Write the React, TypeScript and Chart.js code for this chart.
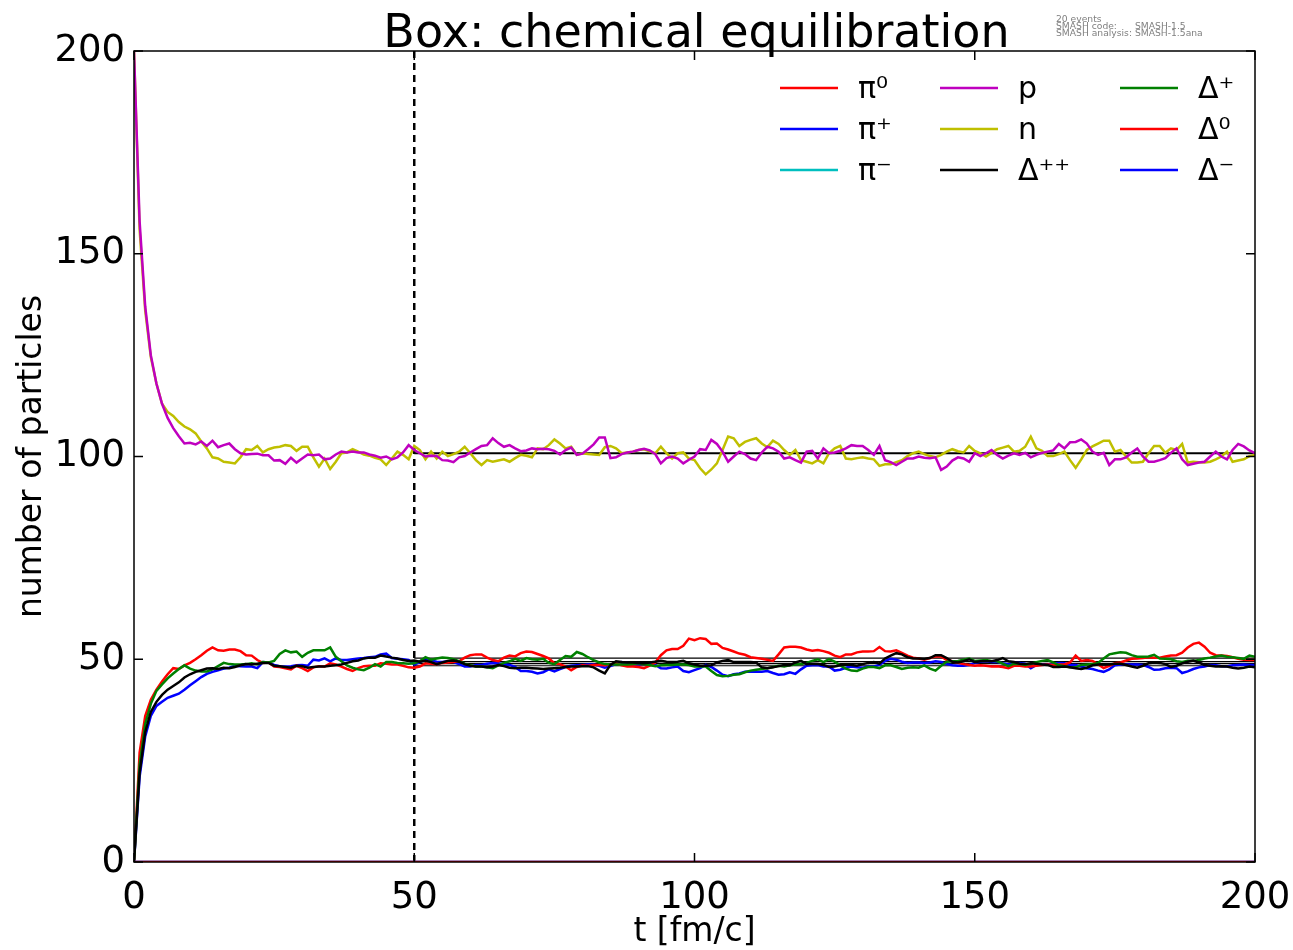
import React, { useEffect, useRef } from "react";
import { Chart, registerables } from "chart.js";

Chart.register(...registerables);

// ---------- data ----------
const TIME = Array.from({ length: 201 }, (_, i) => i); // t [fm/c], step 1

const PION_TIME = [0, 200];
const PI0 = [0, 0];
const PI_PLUS = [0, 0];
const PI_MINUS = [0, 0];

const PROTON = [
  200, 158, 137, 125, 118, 113, 109.5, 107, 105, 103.2,
  103.4, 103, 103.7, 102.6, 103.9, 102.3, 102.8, 103.2, 101.8, 100.8,
  100.5, 100.6, 100.7, 100.3, 100.3, 99, 99.1, 98.2, 99.7, 98.5,
  99.5, 100.5, 100.3, 100.5, 99.3, 99.5, 100.5, 101.2, 101, 101.2,
  101, 101, 100.5, 100.2, 99.7, 100, 99.3, 99.8, 101, 102.8,
  101.6, 100.8, 100, 100.2, 100.1, 99.1, 99, 98.6, 99.8, 100.1,
  101, 101.8, 102.6, 102.8, 104.5, 103.3, 102.4, 102.8, 102, 101.3,
  101.5, 102, 101.8, 101.9, 101.8, 101.4, 100.5, 101.6, 102.2, 100.4,
  100.7, 101.8, 103, 104.7, 104.7, 99.6, 99.8, 100.6, 101, 101.2,
  101.6, 101.9, 101.5, 100.6, 98.3, 99.6, 100, 99.5, 98.3, 99.2,
  100, 101.8, 101.6, 104.1, 103.1, 101.2, 98.7, 100, 101.2, 100.6,
  99.5, 99.1, 101, 102.4, 102, 101.2, 99.5, 99.8, 99.1, 98.5,
  101.2, 101.4, 99.5, 102, 100.8, 101, 101.4, 102, 102.8, 102.6,
  102.6, 101.6, 100.4, 102.6, 99.1, 98.6, 97.9, 98.7, 99.5, 99.5,
  100, 99.7, 99.6, 99.8, 96.7, 97.5, 99, 99.8, 99.5, 98.7,
  100.8, 100.1, 100.8, 101.6, 100.4, 99.5, 100.2, 100.8, 100.4, 100.9,
  99.8, 100.4, 100.9, 101.2, 101.5, 103.1, 102, 103.5, 103.6, 104.2,
  103.2, 101.2, 100.4, 100.9, 97.9, 99.3, 99.3, 99.8, 101, 102,
  100, 98.7, 98.7, 99.1, 99.6, 100.9, 102, 99.3, 97.9, 98.2,
  98.5, 98.7, 100, 101.2, 100, 99.3, 101.6, 103.1, 102.5, 101.5,
  100.8,
];

const NEUTRON = [
  200, 156, 136, 124.5, 118, 113, 111, 110, 108.5, 107.4,
  106.7, 105.7, 103.7, 102, 99.8, 99.5, 98.7, 98.5, 98.3, 99.8,
  101.8, 101.6, 102.6, 101, 101.8, 102.2, 102.4, 102.8, 102.6, 101.4,
  102.4, 102.4, 99.8, 97.5, 99.5, 96.9, 98.7, 100.8, 101, 101.8,
  101.2, 100.5, 100.2, 99.7, 99.3, 97.9, 99.5, 101.2, 100.4, 99.3,
  102.6, 101.6, 99.3, 101.2, 99.5, 101.2, 100.1, 100.6, 101.2, 102.4,
  100.8, 99.1, 97.9, 99.1, 98.7, 99, 99.3, 98.7, 99.6, 100.4,
  100.2, 99.8, 102, 101.8, 102.8, 104.2, 103.2, 102, 102.4, 100.4,
  100.8, 100.6, 100.5, 100.4, 102.3, 102.6, 102, 100.8, 101, 101.2,
  101.6, 101.8, 101.3, 100.8, 102.4, 100.8, 99.5, 100.8, 101, 99.5,
  99.1, 97.1, 95.6, 96.8, 98.3, 101.6, 104.9, 104.5, 102.6, 103.6,
  104.1, 104.5, 103.2, 102.3, 103.9, 103.1, 101.6, 100.4, 101.6, 99.1,
  98.7, 98.3, 99.1, 98.3, 100.8, 102, 102.6, 99.5, 99.3, 99.6,
  99.8, 99.5, 99.3, 97.7, 98.1, 98.1, 98.6, 99.1, 100.1, 100.8,
  101.2, 100.6, 100.1, 99.8, 100.4, 101.2, 101.8, 101.3, 101, 102.6,
  101.4, 100.8, 100, 100.9, 101.8, 102.2, 102.6, 101.2, 101.4, 102.4,
  104.9, 102, 101.4, 100.1, 100.1, 100.6, 101.2, 99.1, 97.2, 99.3,
  101.6, 102.5, 103.2, 103.9, 103.9, 101.2, 101.6, 100, 98.5, 98.5,
  98.7, 100.8, 102.6, 102.6, 100.9, 102, 101.6, 103.1, 98.5, 98.7,
  98.6, 98.5, 98.7, 99.3, 100, 101.2, 98.7, 99, 99.3, 100.1,
  100.4,
];

const DELTA_PP = [
  0, 22, 32, 37, 39.5, 41.2, 42.5, 43.4, 44.3, 45.5,
  46.3, 46.9, 47.3, 47.7, 47.8, 47.6, 47.9, 47.8, 48.1, 48.5,
  48.8, 48.7, 48.9, 49.1, 49.1, 48.4, 48.3, 48.1, 47.9, 48.4,
  48.3, 47.9, 48.1, 48.2, 48.2, 48.4, 48.5, 48.7, 49.1, 49.5,
  49.7, 50.2, 50.4, 50.4, 50.9, 50.7, 50.4, 50.2, 49.8, 49.6,
  49.7, 49.4, 49.6, 49.3, 48.8, 49.2, 49.6, 49.7, 49.4, 48.8,
  48.4, 48.2, 48.2, 48, 48.2, 48.6, 48.3, 47.9, 47.8, 47.9,
  47.9, 47.8, 47.7, 47.6, 47.7, 47.8, 47.9, 48.1, 48.2, 48.2,
  48.3, 48.3, 48, 47.2, 46.5, 48.6, 49.5, 49.3, 49.2, 49.2,
  49.1, 49, 49.2, 49.4, 49.6, 49.4, 49.3, 49.4, 49.6, 49,
  48.7, 48.4, 48.4, 48.5, 49.2, 49.6, 49.8, 49.3, 49.3, 49.3,
  49.3, 49.2, 48, 47.8, 48, 48.3, 48.6, 48.5, 49.2, 49.6,
  48.8, 48.9, 48.8, 48.6, 48.1, 48.2, 48.5, 48.7, 48.6, 48.4,
  48.8, 49.1, 49.3, 48.9, 50.2, 50.9, 51.5, 51.2, 50.5, 50.2,
  50.2, 50.1, 50.3, 51, 51, 50.3, 49.4, 49.2, 49.5, 50,
  49.3, 49.5, 49.5, 49.5, 49.8, 50.3, 49.5, 49.3, 48.9, 48.8,
  49, 48.9, 48.7, 48.6, 48.1, 48.1, 48.2, 48, 47.8, 47.6,
  47.9, 48.5, 48.7, 48.7, 48.7, 48.9, 48.9, 48.6, 48.2, 47.9,
  48.4, 49, 49.2, 49.1, 48.8, 48.1, 48.4, 49, 49.4, 49.7,
  49.2, 48.6, 48.4, 48.2, 48.3, 48.2, 47.9, 47.7, 47.9, 48.2,
  48,
];

const DELTA_P = [
  0, 24, 34, 39, 42.2, 43.8, 45.3, 46.5, 47.6, 48.5,
  47.7, 47.2, 47, 47, 47.5, 48.3, 49.1, 48.8, 48.7, 48.7,
  48.8, 49, 48.7, 49.3, 49.2, 49.6, 51.3, 52.2, 51.7, 51.9,
  50.6, 51.6, 52.2, 52.2, 52.2, 52.9, 50.6, 49.5, 48.5, 47.9,
  47.5, 47.3, 47.9, 48.8, 48.2, 49.3, 49.3, 49.1, 49, 48.9,
  49, 49.5, 50.5, 49.9, 50.2, 50.4, 50.3, 50, 49.5, 48.9,
  48.5, 48.2, 48.2, 48, 47.8, 48.5, 49.1, 49.5, 50.1, 49.6,
  50.3, 50, 49.9, 50.1, 49.1, 48.8, 49.8, 50.8, 50.6, 51.8,
  51.3, 50.5, 49.8, 49.2, 48.8, 48.7, 48.7, 48.7, 48.7, 48.8,
  49, 48.8, 48.6, 48.3, 48.5, 48.6, 48.6, 48.7, 48.7, 48.6,
  48.2, 48.2, 48.2, 47.1, 46.1, 45.8, 45.9, 46.2, 46.3, 46.8,
  47.2, 47.4, 47.6, 47.8, 48.1, 48.4, 48.2, 48.5, 48.7, 48.8,
  49.1, 49.6, 50, 49.3, 50, 49.4, 48.5, 47.7, 47.2, 47.1,
  47.7, 48.1, 48.1, 47.8, 48.5, 48.5, 48.1, 47.6, 47.9, 48,
  47.9, 48.5, 47.7, 47.2, 48.4, 49.4, 49.5, 49.6, 49.9, 50.2,
  49.6, 49.7, 49.8, 49.6, 49.5, 48.9, 48.3, 48.9, 48.8, 48.6,
  48.9, 49.3, 49.6, 49.8, 49.2, 48.5, 48.3, 48, 48, 48.6,
  48.7, 48.8, 49.1, 50.2, 51.2, 51.5, 51.7, 51.6, 51, 50.6,
  50.6, 50.7, 51.1, 50.2, 50.1, 50, 49.5, 49.3, 49.6, 49.6,
  49.8, 50.2, 50.4, 50.7, 50.9, 50.6, 50.5, 50.3, 50.1, 50.9,
  50.6,
];

const DELTA_0 = [
  0, 27, 36, 40, 42.5, 44.5, 46.3, 47.8, 47.6, 48.5,
  49.1, 50, 51, 52.1, 52.9, 52.2, 52.1, 52.4, 52.4, 52,
  51, 50.9, 49.8, 49.1, 49.2, 48.2, 48.1, 47.8, 47.5, 48.4,
  47.8, 47.1, 48, 48.3, 48.2, 49, 48.7, 48.2, 47.6, 47.1,
  47.8, 48.3, 48.4, 48.4, 49, 48.9, 48.7, 48.7, 48.4, 48,
  47.9, 48.2, 49, 48.9, 48.8, 49.1, 49.2, 49.3, 49.5, 50.4,
  51, 51.2, 51.2, 50.4, 49.8, 49.5, 50.4, 50.9, 50.7, 51.5,
  51.9, 51.8, 51.3, 50.8, 50.2, 49, 48.8, 48.2, 47.3, 48.1,
  48.5, 48.4, 48.6, 48.6, 48.5, 48.7, 49, 48.5, 48.2, 48.2,
  48.1, 47.8, 48.4, 49.2, 51, 52.2, 52.5, 52.5, 53.3, 55.1,
  54.7, 55.2, 55, 53.8, 53.9, 52.8, 52.4, 51.9, 51.4, 51.1,
  50.5, 50.3, 50.1, 49.9, 49.6, 51.2, 52.9, 53.1, 53.1, 52.9,
  52.4, 52.1, 52.3, 52, 51.6, 50.9, 50.5, 51.2, 51.2, 51.7,
  51.9, 51.9, 52, 53, 52, 51.9, 52.2, 51.6, 50.9, 50.4,
  50.2, 49.9, 50.3, 50.7, 50.7, 49.8, 49.5, 49.1, 48.8, 48.6,
  48.4, 48.5, 48.4, 48.2, 48.3, 48.1, 47.8, 48.4, 48.4, 48.2,
  48.2, 48.4, 48.6, 48.7, 48.6, 48.7, 48.7, 49.2, 50.9, 49.6,
  49.8, 49.6, 48.8, 47.8, 48.4, 49, 49.2, 49.7, 50.1, 50.2,
  50.3, 50.5, 50.4, 50.4, 50.7, 50.9, 51, 51.6, 52.9, 53.8,
  54.1, 53.1, 51.6, 51, 50.9, 50.8, 50.5, 50.1, 49.9, 49.8,
  49.8,
];

const DELTA_M = [
  0, 21, 31, 36, 38.5, 39.5, 40.5, 41, 41.5, 42.5,
  43.6, 44.6, 45.6, 46.4, 46.9, 47.3, 47.7, 47.9, 48.4, 48.3,
  48.2, 48.2, 47.8, 49.3, 49.2, 48.6, 48.3, 48.2, 48.3, 48.5,
  48.6, 48.4, 49.9, 49.7, 50.2, 49.5, 50.2, 49.8, 49.8, 50,
  50.2, 50.3, 50.5, 50.6, 51.2, 51.4, 50.3, 50.1, 50, 49.8,
  48.7, 49.3, 50.1, 49.7, 49.4, 49.3, 49.5, 49.3, 48.8, 48.2,
  48.2, 48.6, 48.6, 48.9, 49.1, 49, 48.8, 48.6, 48.1, 47.1,
  47.1, 46.9, 46.5, 46.8, 47.5, 47, 47.6, 48.1, 48.4, 48.5,
  48.6, 48.7, 48.7, 48.4, 47.9, 48.3, 48.8, 49.3, 49.1, 48.8,
  48.7, 49, 48.8, 48.6, 47.8, 47.7, 48, 48.2, 47.1, 46.8,
  47.3, 47.8, 48.6, 48.1, 47.2, 46.2, 45.8, 46.3, 46.5, 46.9,
  47, 46.9, 46.9, 47.1, 46.6, 46.2, 46.3, 46.8, 46.4, 47.5,
  48.4, 48.5, 48.6, 48.2, 48.2, 47.2, 47.4, 47.9, 48.2, 48,
  47.9, 48.2, 48.2, 48.6, 49.6, 50.1, 49.9, 49.4, 49.1, 49.2,
  49.2, 49.1, 49.2, 49.5, 49.3, 48.8, 48.5, 48.4, 48.4, 48.6,
  49.1, 49.4, 49.5, 49.3, 49.3, 49, 48.8, 49.1, 49.1, 48.9,
  47.8, 48.6, 48.7, 48.7, 48.9, 49.1, 49, 48.6, 48.6, 48.2,
  47.8, 47.6, 47.2, 46.9, 47.5, 48.5, 48.7, 48.7, 48.7, 48.7,
  48.6, 48.1, 47.4, 47.5, 47.8, 47.9, 47.8, 46.6, 47, 47.6,
  48, 48.2, 48.6, 48.5, 48.3, 48.2, 48.5, 48.6, 48.7, 48.6,
  48.6,
];

// equilibrium averages (thin black lines), drawn from t = 50
const MEAN_TIME = [50, 200];
const MEAN_VALUES = [100.9, 100.7, 50.3, 49.4, 48.9, 48.4];

const EQ_START = 50; // dotted vertical marker
const X_TICKS = [0, 50, 100, 150, 200];
const Y_TICKS = [0, 50, 100, 150, 200];

const TITLE = "Box: chemical equilibration";
const META_LINES = ["20 events", "SMASH code:", "SMASH analysis: SMASH-1.5ana"];
const META_CODE = "SMASH-1.5";

const SERIES = [
  { label: "π⁰", color: "#ff0000", t: PION_TIME, v: PI0 },
  { label: "π⁺", color: "#0000ff", t: PION_TIME, v: PI_PLUS },
  { label: "π⁻", color: "#00bfbf", t: PION_TIME, v: PI_MINUS },
  { label: "p", color: "#bf00bf", t: TIME, v: PROTON },
  { label: "n", color: "#bfbf00", t: TIME, v: NEUTRON },
  { label: "Δ⁺⁺", color: "#000000", t: TIME, v: DELTA_PP },
  { label: "Δ⁺", color: "#008000", t: TIME, v: DELTA_P },
  { label: "Δ⁰", color: "#ff0000", t: TIME, v: DELTA_0 },
  { label: "Δ⁻", color: "#0000ff", t: TIME, v: DELTA_M },
];

const FONT = '"DejaVu Sans", sans-serif';

const framePlugin = {
  id: "frame",
  afterDatasetsDraw(chart: any) {
    const { ctx, chartArea } = chart;
    const { left, right, top, bottom } = chartArea;
    const xs = chart.scales.x;
    const ys = chart.scales.y;
    ctx.save();
    ctx.strokeStyle = "#000";
    ctx.lineWidth = 1.5;
    ctx.strokeRect(left, top, right - left, bottom - top);
    const L = 9;
    ctx.beginPath();
    X_TICKS.forEach((v) => {
      const px = xs.getPixelForValue(v);
      ctx.moveTo(px, bottom);
      ctx.lineTo(px, bottom - L);
      ctx.moveTo(px, top);
      ctx.lineTo(px, top + L);
    });
    Y_TICKS.forEach((v) => {
      const py = ys.getPixelForValue(v);
      ctx.moveTo(left, py);
      ctx.lineTo(left + L, py);
      ctx.moveTo(right, py);
      ctx.lineTo(right - L, py);
    });
    ctx.stroke();
    ctx.restore();
  },
};

const decorPlugin = {
  id: "decor",
  afterDraw(chart: any) {
    const { ctx, chartArea } = chart;
    const { left, right, top } = chartArea;
    ctx.save();
    // title
    ctx.fillStyle = "#000";
    ctx.font = `46px ${FONT}`;
    ctx.textAlign = "center";
    ctx.textBaseline = "alphabetic";
    ctx.fillText(TITLE, (left + right) / 2 + 2, top - 4);
    // meta text
    ctx.fillStyle = "#7f7f7f";
    ctx.font = `9.2px ${FONT}`;
    ctx.textAlign = "left";
    ctx.fillText(META_LINES[0], 1056, 21.5);
    ctx.fillText(META_LINES[1], 1056, 28.5);
    ctx.fillText(META_CODE, 1135, 28.5);
    ctx.fillText(META_LINES[2], 1056, 35.5);
    // legend: 3 columns, column-major
    const colX = [right - 475, right - 315, right - 135];
    const rowY = [top + 37, top + 78, top + 119];
    ctx.font = `30px ${FONT}`;
    SERIES.forEach((s, i) => {
      const c = Math.floor(i / 3);
      const r = i % 3;
      const x0 = colX[c];
      const y0 = rowY[r];
      ctx.strokeStyle = s.color;
      ctx.lineWidth = 2.5;
      ctx.beginPath();
      ctx.moveTo(x0, y0);
      ctx.lineTo(x0 + 58, y0);
      ctx.stroke();
      ctx.fillStyle = "#000";
      ctx.fillText(s.label, x0 + 78, y0 + 10);
    });
    ctx.restore();
  },
};

export default function App() {
  const ref = useRef<HTMLCanvasElement | null>(null);

  useEffect(() => {
    if (!ref.current) return;
    Chart.defaults.font.family = FONT;
    Chart.defaults.color = "#000";

    const datasets: any[] = SERIES.map((s) => ({
      label: s.label,
      data: s.t.map((t, i) => ({ x: t, y: s.v[i] })),
      borderColor: s.color,
      borderWidth: 2.5,
      pointRadius: 0,
      fill: false,
      tension: 0,
    }));
    MEAN_VALUES.forEach((m) => {
      datasets.push({
        label: "mean",
        data: MEAN_TIME.map((t) => ({ x: t, y: m })),
        borderColor: "#000",
        borderWidth: 1.2,
        pointRadius: 0,
        fill: false,
      });
    });
    datasets.push({
      label: "eq",
      data: [
        { x: EQ_START, y: Y_TICKS[0] },
        { x: EQ_START, y: Y_TICKS[Y_TICKS.length - 1] },
      ],
      borderColor: "#000",
      borderWidth: 2.5,
      borderDash: [7, 5],
      pointRadius: 0,
      fill: false,
    });

    const chart = new Chart(ref.current, {
      type: "line",
      data: { datasets },
      options: {
        responsive: false,
        animation: false,
        devicePixelRatio: 1,
        layout: { padding: { top: 51, right: 85, bottom: 0, left: 0 } },
        plugins: {
          legend: { display: false },
          tooltip: { enabled: false },
          title: { display: false },
        },
        scales: {
          x: {
            type: "linear",
            min: 0,
            max: 200,
            afterBuildTicks: (s: any) => {
              s.ticks = X_TICKS.map((v) => ({ value: v }));
            },
            ticks: { font: { size: 37 }, color: "#000", padding: 14, maxRotation: 0, autoSkip: false },
            grid: { display: false, drawTicks: false },
            border: { display: false },
            title: {
              display: true,
              text: "t [fm/c]",
              font: { size: 33 },
              color: "#000",
              padding: { top: 0, bottom: -2 },
            },
            afterFit: (s: any) => {
              s.height = 88;
            },
          },
          y: {
            type: "linear",
            min: 0,
            max: 200,
            afterBuildTicks: (s: any) => {
              s.ticks = Y_TICKS.map((v) => ({ value: v }));
            },
            ticks: { font: { size: 37 }, color: "#000", padding: 9, autoSkip: false },
            grid: { display: false, drawTicks: false },
            border: { display: false },
            title: {
              display: true,
              text: "number of particles",
              font: { size: 33 },
              color: "#000",
              padding: { top: 13, bottom: 0 },
            },
            afterFit: (s: any) => {
              s.width = 134;
            },
          },
        },
      } as any,
      plugins: [framePlugin, decorPlugin],
    });
    return () => chart.destroy();
  }, []);

  return (
    <div
      style={{
        position: "fixed",
        left: 0,
        top: 0,
        width: 1293,
        height: 950,
        overflow: "hidden",
        background: "#fff",
      }}
    >
      <canvas ref={ref} width={1340} height={950} style={{ display: "block" }} />
    </div>
  );
}
